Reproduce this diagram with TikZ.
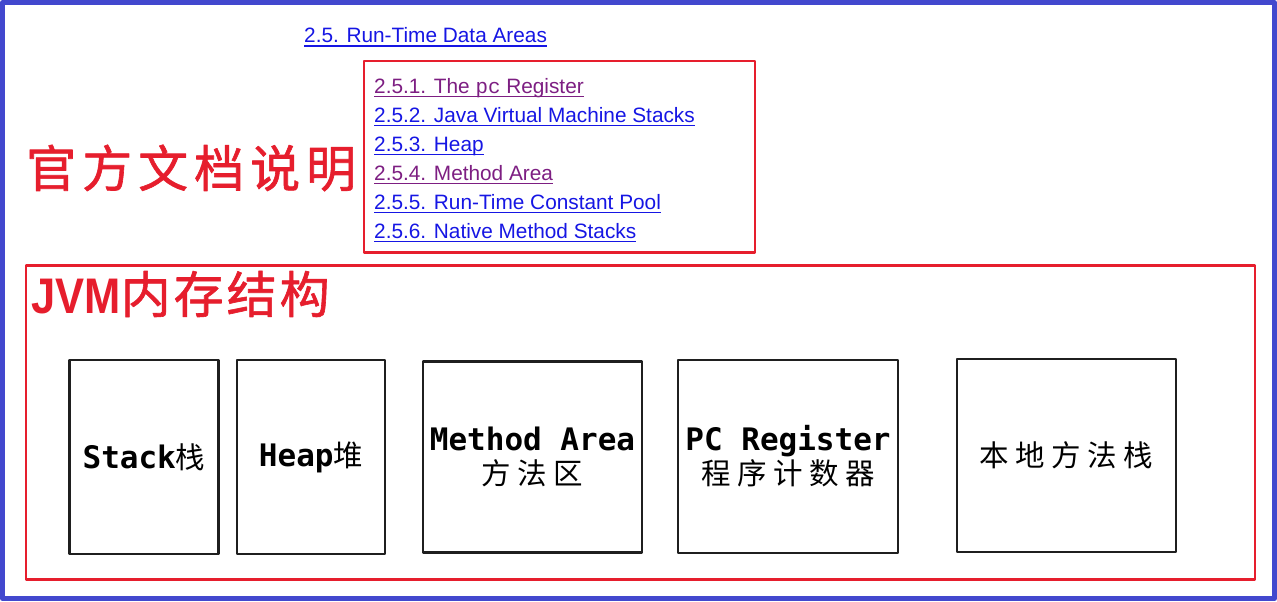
\documentclass[tikz,border=0pt]{standalone}
\usepackage{fontspec}
\setmainfont{Liberation Sans}
\newfontfamily\codefont{Liberation Mono}
\newfontfamily\boxmono{DejaVu Sans Mono}
\newfontfamily\jvmlatin{Liberation Sans}[FakeStretch=0.87]
\newfontfamily\cjkbox{Noto Sans CJK SC}[LetterSpace=22]
\newfontfamily\cjktitle{Noto Sans CJK SC}[LetterSpace=12,FakeBold=1.2]
\newfontfamily\cjkjvm{Noto Sans CJK SC}[LetterSpace=6,FakeBold=1.2]
\newcommand\zh[1]{{\cjkbox\mdseries\fontsize{29.5}{34}\selectfont #1}}

\begin{document}
\begin{tikzpicture}[x=1pt,y=-1pt,line cap=round,line join=round,
  frame/.style={draw=frameblue,line width=5pt},
  notebox/.style={draw=notered,line width=2.5pt},
  link/.style={anchor=base west,inner sep=0pt,text=linkblue,
    font=\fontsize{20.8}{24}\selectfont},
  visited/.style={link,text=linkpurple},
  uline/.style={line width=1.4pt,line cap=butt},
  area/.style={draw=black!88,line width=2.6pt,align=center,inner sep=0pt,
    font=\boxmono\bfseries\fontsize{31}{34}\selectfont},
  title/.style={anchor=base west,inner sep=0pt,text=notered,
    font=\fontsize{50}{60}\selectfont}]
  \definecolor{frameblue}{RGB}{66,72,206}
  \definecolor{notered}{RGB}{230,30,45}
  \definecolor{linkblue}{RGB}{22,22,228}
  \definecolor{linkpurple}{RGB}{125,30,130}

  \useasboundingbox (0,0) rectangle (1277,602);
  \fill[white] (0,0) rectangle (1277,602);

  % ---- outer frame ----
  \draw[frame] (2.5,2.5) rectangle (1274.5,598.5);

  % ---- spec links ----
  \node[link] (top) at (304,42.5) {2.5. Run-Time Data Areas};
  \draw[notebox] (364,61) rectangle (755,252.5);
  \node[visited] (l1) at (374,93) {2.5.1. The {\codefont pc} Register};
  \node[link] (l2) at (374,122) {2.5.2. Java Virtual Machine Stacks};
  \node[link] (l3) at (374,151) {2.5.3. Heap};
  \node[visited] (l4) at (374,180) {2.5.4. Method Area};
  \node[link] (l5) at (374,209) {2.5.5. Run-Time Constant Pool};
  \node[link] (l6) at (374,238) {2.5.6. Native Method Stacks};
  \foreach \n/\c in {top/linkblue,l1/linkpurple,l2/linkblue,l3/linkblue,
                     l4/linkpurple,l5/linkblue,l6/linkblue}
    \draw[uline,\c] ([yshift=-3.5pt]\n.base west) -- ([yshift=-3.5pt]\n.base east);

  % ---- red notes ----
  \node[title] (doc) at (26,187) {\cjktitle 官方文档说明};
  \draw[notebox] (26,265.5) rectangle (1255,579.5);
  \node[title] (jvm) at (31,313) {{\jvmlatin\bfseries JVM}{\cjkjvm 内存结构}};

  % ---- memory areas ----
  \node[area,minimum width=149pt,minimum height=194pt] (stack) at (144,457) {Stack\zh{栈}};
  \node[area,minimum width=148pt,minimum height=194pt] (heap) at (311,457) {Heap\zh{堆}};
  \node[area,minimum width=219pt,minimum height=191pt] (method) at (532.5,457) {Method Area\\\zh{方法区}};
  \node[area,minimum width=220pt,minimum height=193pt] (pc) at (788,456.5) {PC Register\\\zh{程序计数器}};
  \node[area,minimum width=219pt,minimum height=193pt] (native) at (1066.5,455.5) {\zh{本地方法栈}};
\end{tikzpicture}
\end{document}
